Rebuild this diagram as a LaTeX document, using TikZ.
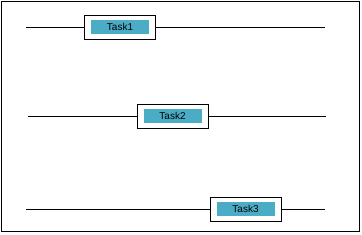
\documentclass[tikz,border=0pt]{standalone}
\usepackage{fontspec}
\setmainfont{Liberation Sans}
\usetikzlibrary{positioning}

\definecolor{taskfill}{RGB}{75,172,198}

\begin{document}
\begin{tikzpicture}[
    x=1pt, y=-1pt,
    frame/.style={draw, fill=white, line width=0.8pt, minimum width=71pt, minimum height=24pt, inner sep=0pt},
    task/.style={fill=taskfill, minimum width=58pt, minimum height=14pt, inner sep=0pt, font=\fontsize{10}{11}\selectfont},
    lane/.style={line width=0.8pt}
]
\useasboundingbox (0,0) rectangle (362,234);
\draw[line width=0.8pt] (1.5,1.5) rectangle (359.5,231.5);

% task boxes
\node[frame] (F1) at (120,27) {};
\node[task] (T1) at (120,26.5) {Task1};
\node[frame] (F2) at (173,116) {};
\node[task] (T2) at (172.5,115.5) {Task2};
\node[frame] (F3) at (246,209) {};
\node[task] (T3) at (245.5,208.5) {Task3};

% lane ends
\coordinate (L1a) at (26,27);
\coordinate (L1b) at (325,27);
\coordinate (L2a) at (28,116.5);
\coordinate (L2b) at (326,116.5);
\coordinate (L3a) at (26,209.5);
\coordinate (L3b) at (325,209.5);

\draw[lane] (L1a) -- (L1a -| F1.west);
\draw[lane] (L1b -| F1.east) -- (L1b);
\draw[lane] (L2a) -- (L2a -| F2.west);
\draw[lane] (L2b -| F2.east) -- (L2b);
\draw[lane] (L3a) -- (L3a -| F3.west);
\draw[lane] (L3b -| F3.east) -- (L3b);
\end{tikzpicture}
\end{document}
